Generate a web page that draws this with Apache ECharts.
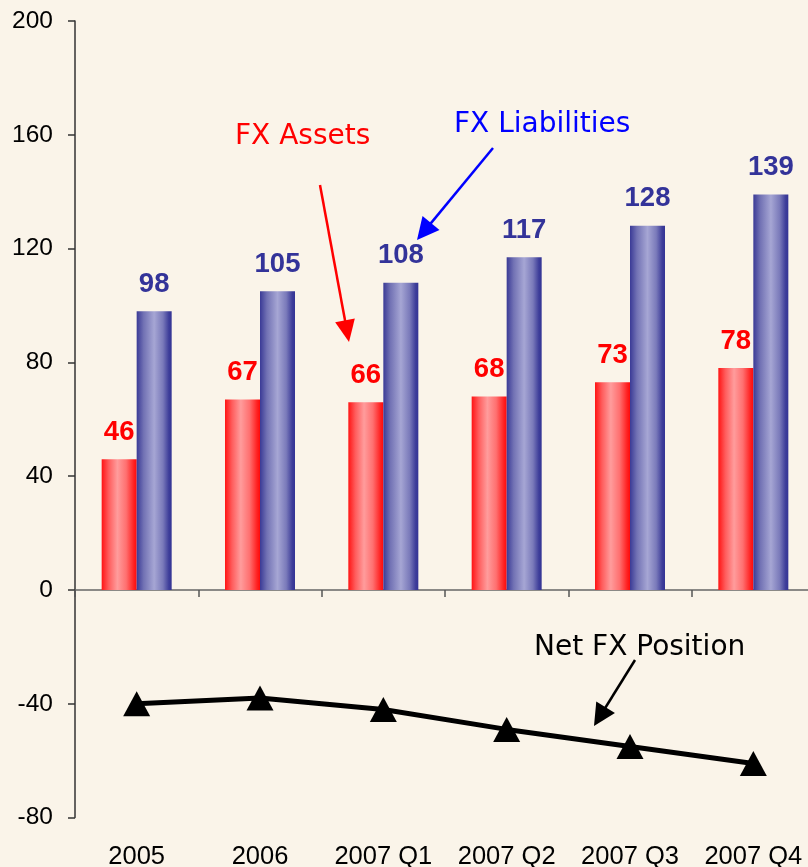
<!DOCTYPE html>
<html>
<head>
<meta charset="utf-8">
<title>FX Assets and Liabilities</title>
<script src="https://cdn.jsdelivr.net/npm/echarts@6/dist/echarts.min.js"></script>
<style>
  html, body { margin: 0; padding: 0; background: #FAF4E9; }
  #chart { width: 808px; height: 867px; }
</style>
</head>
<body>
<div id="chart"></div>
<script>
// Chart data
const categories = ['2005', '2006', '2007 Q1', '2007 Q2', '2007 Q3', '2007 Q4'];
const fxAssets = [46, 67, 66, 68, 73, 78];
const fxLiabilities = [98, 105, 108, 117, 128, 139];
const netFxPosition = [-40, -38, -42, -49, -55, -61];
const yMin = -80, yMax = 200, yStep = 40;

const chart = echarts.init(document.getElementById('chart'));

const numFont = "'Liberation Sans', Arial, sans-serif";
const noteFont = "'DejaVu Sans', Verdana, sans-serif";

// Straight arrow with a filled triangular head ending at (x2, y2)
function arrow(x1, y1, x2, y2, color, width, headLen, headHalf) {
  const dx = x2 - x1, dy = y2 - y1;
  const len = Math.hypot(dx, dy);
  const ux = dx / len, uy = dy / len;
  const bx = x2 - ux * headLen, by = y2 - uy * headLen;
  const px = -uy, py = ux;
  return [
    { type: 'line', silent: true, z: 100,
      shape: { x1: x1, y1: y1, x2: bx + ux * 2, y2: by + uy * 2 },
      style: { stroke: color, lineWidth: width } },
    { type: 'polygon', silent: true, z: 100,
      shape: { points: [[x2, y2], [bx + px * headHalf, by + py * headHalf], [bx - px * headHalf, by - py * headHalf]] },
      style: { fill: color } }
  ];
}

function note(text, x, y, color) {
  return { type: 'text', silent: true, z: 100, x: x, y: y,
    style: { text: text, fill: color, font: "28px " + noteFont, textVerticalAlign: 'middle' } };
}

const redGrad = new echarts.graphic.LinearGradient(0, 0, 1, 0, [
  { offset: 0, color: '#FF1414' },
  { offset: 0.2, color: '#FF5C5C' },
  { offset: 0.45, color: '#FF9C9C' },
  { offset: 0.7, color: '#FF7070' },
  { offset: 0.92, color: '#FF2020' },
  { offset: 1, color: '#FF0A0A' }
]);
const blueGrad = new echarts.graphic.LinearGradient(0, 0, 1, 0, [
  { offset: 0, color: '#3A3A96' },
  { offset: 0.2, color: '#7272B4' },
  { offset: 0.5, color: '#A6A6D4' },
  { offset: 0.75, color: '#7A7ABA' },
  { offset: 0.92, color: '#3E3E9A' },
  { offset: 1, color: '#333394' }
]);

const option = {
  backgroundColor: '#FAF4E9',
  animation: false,
  grid: { left: 75, width: 740, top: 21, bottom: 49.4, containLabel: false, outerBoundsMode: 'none' },
  xAxis: [
    {
      type: 'category',
      data: categories,
      axisLine: { onZero: true, lineStyle: { color: '#666666', width: 1.5 } },
      axisTick: { show: true, length: 7, lineStyle: { color: '#555555', width: 1.5 } },
      axisLabel: { show: false },
      splitLine: { show: false }
    },
    {
      type: 'category',
      data: categories,
      position: 'bottom',
      axisLine: { show: false, onZero: false },
      axisTick: { show: false },
      axisLabel: { show: true, interval: 0, hideOverlap: false, margin: 26, color: '#000',
        fontSize: 25.5, fontFamily: numFont },
      splitLine: { show: false }
    }
  ],
  yAxis: {
    type: 'value',
    min: yMin, max: yMax, interval: yStep,
    axisLine: { show: true, lineStyle: { color: '#333333', width: 1.5 } },
    axisTick: { show: true, length: 7, lineStyle: { color: '#333333', width: 1.5 } },
    axisLabel: { margin: 22, color: '#000', fontSize: 24.5, fontFamily: numFont },
    splitLine: { show: false }
  },
  series: [
    {
      name: 'FX Assets',
      type: 'bar',
      xAxisIndex: 0,
      data: fxAssets,
      barWidth: 35,
      barGap: '0%',
      itemStyle: { color: redGrad },
      label: { show: true, position: 'top', distance: 13, color: '#FF0000',
        fontSize: 27.5, fontWeight: 'bold', fontFamily: numFont }
    },
    {
      name: 'FX Liabilities',
      type: 'bar',
      xAxisIndex: 0,
      data: fxLiabilities,
      barWidth: 35,
      barGap: '0%',
      itemStyle: { color: blueGrad },
      label: { show: true, position: 'top', distance: 13, color: '#333399',
        fontSize: 27.5, fontWeight: 'bold', fontFamily: numFont }
    },
    {
      name: 'Net FX Position',
      type: 'line',
      xAxisIndex: 0,
      data: netFxPosition,
      symbol: 'triangle',
      symbolSize: [27, 25],
      lineStyle: { color: '#000', width: 5 },
      itemStyle: { color: '#000' },
      z: 5
    }
  ],
  graphic: [
    note('FX Assets', 235, 137, '#FF0000'),
    note('FX Liabilities', 454, 125, '#0000FF'),
    note('Net FX Position', 534, 648, '#000000'),
    ...arrow(320, 185, 349, 342, '#FF0000', 2.5, 22, 10),
    ...arrow(493, 148, 417, 240, '#0000FF', 2.5, 22, 11),
    ...arrow(635, 660, 594, 726, '#000000', 2.5, 22, 11)
  ]
};

chart.setOption(option);
</script>
</body>
</html>
